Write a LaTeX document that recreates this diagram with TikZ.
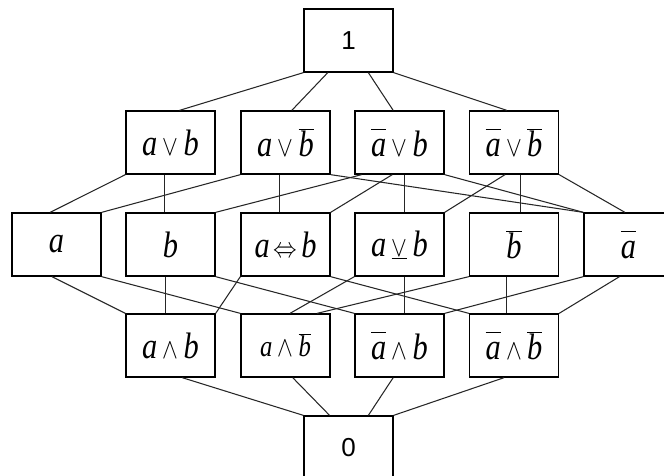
\documentclass[tikz,border=0pt]{standalone}
\usepackage{fontspec}
\usepackage{graphicx}
\setmainfont{Liberation Serif}
\newfontfamily\digitfont{Liberation Sans}
\usetikzlibrary{calc}
\newcommand{\va}{\textit{a}}
\newcommand{\vb}{\textit{b}}
\newcommand{\na}{\overline{\vphantom{\textit{b}}\textit{a}}}
\newcommand{\nb}{\overline{\textit{b}}}
\newcommand{\lbl}[1]{\scalebox{0.95}[1.15]{$#1$}}
\tikzset{
  box/.style={draw=black, line width=1.3pt, fill=white, minimum width=89pt, minimum height=63pt,
    inner sep=0pt, font=\fontsize{32}{34}\selectfont},
  numbox/.style={box, font=\digitfont\fontsize{26}{28}\selectfont},
  link/.style={draw=black!85, line width=1.05pt},
}
\begin{document}
\begin{tikzpicture}[x=1pt,y=-1pt]
\clip (0,0) rectangle (664,475);
\fill[white] (0,0) rectangle (664,475);
% nodes
\node[numbox] (T) at (348.5,40.5) {1};
\node[box] (J1) at (170.5,142.5) {\lbl{\va\vee\vb}};
\node[box] (J2) at (285.5,142.5) {\lbl{\va\vee\nb}};
\node[box] (J3) at (399.5,142.5) {\lbl{\na\vee\vb}};
\node[box] (J4) at (514,142.5) {\lbl{\na\vee\nb}};
\node[box] (A) at (56.5,244.5) {\lbl{\va}};
\node[box] (B) at (170.5,244.5) {\lbl{\vb}};
\node[box] (E) at (285.5,244.5) {\lbl{\va{\,\Leftrightarrow\,}\vb}};
\node[box] (X) at (399.5,244.5) {\lbl{\va\mathbin{\underline{\vee}}\vb}};
\node[box] (NB) at (514,244.5) {\lbl{\nb}};
\node[box] (NA) at (628.5,244.5) {\lbl{\na}};
\node[box] (M1) at (170.5,345.5) {\lbl{\va\wedge\vb}};
\node[box,font=\fontsize{26}{28}\selectfont] (M2) at (285.5,345.5) {\lbl{\va\wedge\nb}};
\node[box] (M3) at (399.5,345.5) {\lbl{\na\wedge\vb}};
\node[box] (M4) at (514,345.5) {\lbl{\na\wedge\nb}};
\node[numbox] (Z) at (348.5,447.5) {0};
% top -> row 2
\draw[link] (T.south west) -- ($(J1.north west)!0.6!(J1.north east)$);
\draw[link] ($(T.south west)!0.27!(T.south east)$) -- ($(J2.north west)!0.57!(J2.north east)$);
\draw[link] ($(T.south west)!0.72!(T.south east)$) -- ($(J3.north west)!0.43!(J3.north east)$);
\draw[link] (T.south east) -- ($(J4.north west)!0.42!(J4.north east)$);
% row 2 -> row 3
\draw[link] (J1.south west) -- ($(A.north west)!0.43!(A.north east)$);
\draw[link] ($(J1.south west)!0.43!(J1.south east)$) -- ($(B.north west)!0.43!(B.north east)$);
\draw[link] (J2.south west) -- (A.north east);
\draw[link] ($(J2.south west)!0.43!(J2.south east)$) -- ($(E.north west)!0.43!(E.north east)$);
\draw[link] (J2.south east) -- (NA.north west);
\draw[link] ($(J3.south west)!0.08!(J3.south east)$) -- (B.north east);
\draw[link] ($(J3.south west)!0.42!(J3.south east)$) -- (E.north east);
\draw[link] ($(J3.south west)!0.56!(J3.south east)$) -- ($(X.north west)!0.56!(X.north east)$);
\draw[link] (J3.south east) -- (NA.north west);
\draw[link] ($(J4.south west)!0.4!(J4.south east)$) -- (X.north east);
\draw[link] ($(J4.south west)!0.57!(J4.south east)$) -- ($(NB.north west)!0.57!(NB.north east)$);
\draw[link] (J4.south east) -- ($(NA.north west)!0.46!(NA.north east)$);
% row 3 -> row 4
\draw[link] ($(A.south west)!0.45!(A.south east)$) -- (M1.north west);
\draw[link] (A.south east) -- (M2.north west);
\draw[link] ($(B.south west)!0.44!(B.south east)$) -- ($(M1.north west)!0.44!(M1.north east)$);
\draw[link] (B.south east) -- (M3.north west);
\draw[link] (E.south west) -- (M1.north east);
\draw[link] (E.south east) -- (M4.north west);
\draw[link] (X.south west) -- ($(M2.north west)!0.55!(M2.north east)$);
\draw[link] ($(X.south west)!0.56!(X.south east)$) -- ($(M3.north west)!0.56!(M3.north east)$);
\draw[link] (NB.south west) -- ($(M2.north west)!0.85!(M2.north east)$);
\draw[link] ($(NB.south west)!0.42!(NB.south east)$) -- ($(M4.north west)!0.42!(M4.north east)$);
\draw[link] (NA.south west) -- (M3.north east);
\draw[link] ($(NA.south west)!0.4!(NA.south east)$) -- (M4.north east);
% row 4 -> bottom
\draw[link] ($(M1.south west)!0.63!(M1.south east)$) -- (Z.north west);
\draw[link] ($(M2.south west)!0.58!(M2.south east)$) -- ($(Z.north west)!0.29!(Z.north east)$);
\draw[link] ($(M3.south west)!0.43!(M3.south east)$) -- ($(Z.north west)!0.72!(Z.north east)$);
\draw[link] ($(M4.south west)!0.39!(M4.south east)$) -- (Z.north east);
\end{tikzpicture}
\end{document}
